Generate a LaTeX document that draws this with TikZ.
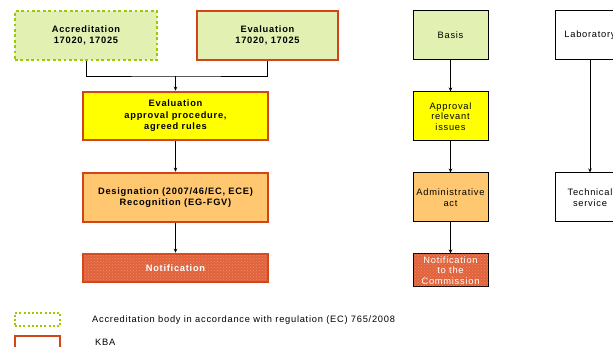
\documentclass[tikz,border=0pt]{standalone}
\usepackage{fontspec}
\setmainfont{Liberation Sans}[LetterSpace=8]
\usetikzlibrary{arrows.meta,patterns}
\definecolor{kbared}{HTML}{D2451A}
\definecolor{accgreen}{HTML}{99CC00}
\definecolor{lightgreen}{HTML}{E2F0B2}
\definecolor{procyellow}{HTML}{FFFF00}
\definecolor{lightorange}{HTML}{FFC870}
\definecolor{notifred}{HTML}{E0633C}
\definecolor{notifdot}{HTML}{EE8A68}
\tikzset{
  box/.style={rectangle, inner sep=1pt, align=center, font=\fontsize{9.3}{11.5}\selectfont},
  kbabox/.style={box, draw=kbared, line width=2.5pt, font=\bfseries\fontsize{9.3}{11.5}\selectfont},
  accbox/.style={box, draw=accgreen, line width=2.8pt, dash pattern=on 2.8pt off 2.6pt, fill=lightgreen, font=\bfseries\fontsize{9.3}{11.5}\selectfont},
  plainbox/.style={box, draw=black, line width=1pt, font=\fontsize{9.3}{10.5}\selectfont},
  notif/.style={fill=notifred, text=white, postaction={pattern=crosshatch dots, pattern color=notifdot}},
  arr/.style={-{Stealth[length=4pt,width=3.5pt]}, line width=0.9pt},
  con/.style={line width=0.9pt},
  legtext/.style={anchor=west, inner sep=0pt, font=\fontsize{9.3}{11}\selectfont}
}
\begin{document}
\begin{tikzpicture}[x=1pt,y=-1pt]
\useasboundingbox (0,0) rectangle (613,347);
% left column
\node[accbox, minimum width=142pt, minimum height=49pt] (acc) at (86,35.5) {Accreditation\\17020, 17025};
\node[kbabox, fill=lightgreen, minimum width=141pt, minimum height=49pt] (eval) at (267.5,35.5) {Evaluation\\17020, 17025};
\node[kbabox, fill=procyellow, minimum width=185pt, minimum height=48pt] (proc) at (175.5,116) {Evaluation\\approval procedure,\\agreed rules};
\node[kbabox, fill=lightorange, minimum width=185pt, minimum height=49pt, font=\bfseries\fontsize{9.3}{10.5}\selectfont] (desig) at (175.5,197.5) {Designation (2007/46/EC, ECE)\\Recognition (EG-FGV)};
\node[kbabox, notif, minimum width=185pt, minimum height=28pt] (notif) at (175.5,268) {Notification};
\coordinate (j) at (175.5,76);
\draw[con] (acc.south) |- (j) -| (eval.south);
\draw[arr] (j) -- (proc.north);
\draw[arr] (proc.south) -- (desig.north);
\draw[arr] (desig.south) -- (notif.north);
% middle column
\node[plainbox, fill=lightgreen, minimum width=75pt, minimum height=49pt] (basis) at (450.5,35.5) {Basis};
\node[plainbox, fill=procyellow, minimum width=75pt, minimum height=49pt] (appr) at (450.5,116.5) {Approval\\relevant\\issues};
\node[plainbox, fill=lightorange, minimum width=75pt, minimum height=49pt] (admin) at (450.5,197.5) {Administrative\\act};
\node[plainbox, notif, minimum width=75pt, minimum height=33pt] (ncomm) at (450.5,270.5) {Notification\\to the\\Commission};
\draw[arr] (basis.south) -- (appr.north);
\draw[arr] (appr.south) -- (admin.north);
\draw[arr] (admin.south) -- (ncomm.north);
% right column
\node[plainbox, fill=white, minimum width=70pt, minimum height=49pt] (lab) at (590,35.5) {Laboratory};
\node[plainbox, fill=white, minimum width=70pt, minimum height=49pt] (tech) at (590,197.5) {Technical\\service};
\draw[arr] (lab.south) -- (tech.north);
% legend
\node[draw=accgreen, line width=2pt, dash pattern=on 2pt off 2.2pt, minimum width=45pt, minimum height=13pt, inner sep=0pt] (legacc) at (37.5,319.5) {};
\node[legtext] (legacctext) at (92,320) {Accreditation body in accordance with regulation (EC) 765/2008};
\node[draw=kbared, line width=2pt, minimum width=45pt, minimum height=13pt, inner sep=0pt] (legkba) at (37.5,342.5) {};
\node[legtext] (legkbatext) at (95,342.5) {KBA};
\end{tikzpicture}
\end{document}
